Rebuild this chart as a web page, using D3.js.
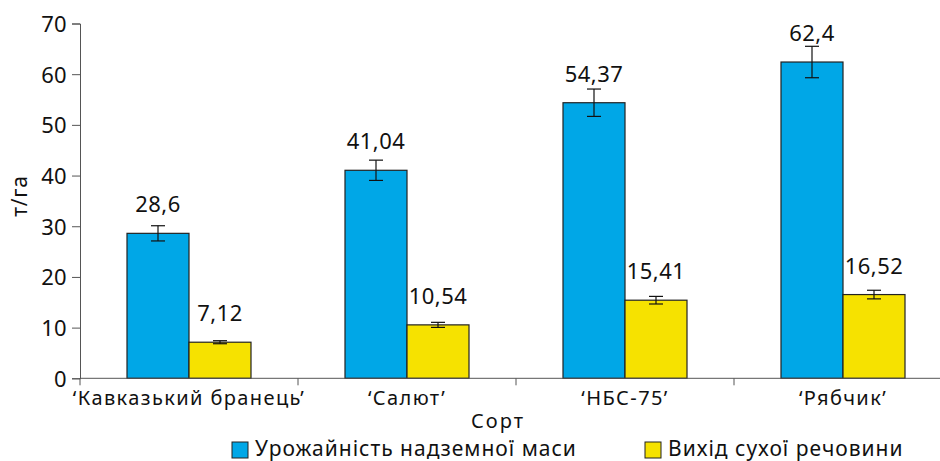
<!DOCTYPE html>
<html><head><meta charset="utf-8">
<script src="https://cdn.jsdelivr.net/npm/d3@7"></script>
<style>body{margin:0;background:#fff}text{font-family:"Noto Sans",sans-serif;fill:#111}</style>
</head><body><svg id="c" width="940" height="461"></svg>
<script>
const categories = ["‘Кавказький бранець’", "‘Салют’", "‘НБС-75’", "‘Рябчик’"];
const seriesNames = ["Урожайність надземної маси", "Вихід сухої речовини"];
const yieldValues = [28.6, 41.04, 54.37, 62.4];
const yieldErrors = [1.5, 2.0, 2.7, 3.1];
const dryValues = [7.12, 10.54, 15.41, 16.52];
const dryErrors = [0.3, 0.5, 0.75, 0.85];
const yTicks = [0, 10, 20, 30, 40, 50, 60, 70];
const colors = ["#00a7e7", "#f6e200"];

const svg = d3.select("#c");
const x = d3.scaleBand().domain(categories).range([80, 952]).paddingInner(0).paddingOuter(0);
const y = d3.scaleLinear().domain([0, 70]).range([378.3, 23.5]);
const bw = 62;

// axes
const ya = svg.append("g").attr("transform", "translate(80,0)")
  .call(d3.axisLeft(y).tickValues(yTicks).tickSize(8).tickPadding(5).tickFormat(d3.format("d")));
ya.select(".domain").attr("stroke", "#555");
ya.selectAll(".tick line").attr("stroke", "#555");
ya.selectAll(".tick text").style("font-size", "22px").style("letter-spacing", "0.3px").attr("dy", "0.36em");

const series = [
  {vals: yieldValues, errs: yieldErrors, off: -bw},
  {vals: dryValues, errs: dryErrors, off: 0}
];
series.forEach((s, si) => {
  const g = svg.append("g");
  categories.forEach((c, i) => {
    const cx = x(c) + x.bandwidth() / 2 + s.off;
    g.append("rect").attr("x", cx).attr("y", y(s.vals[i])).attr("width", bw)
      .attr("height", y(0) - y(s.vals[i])).attr("fill", colors[si]).attr("stroke", "#222").attr("stroke-width", 1.2);
    const ex = cx + bw / 2;
    const t = y(s.vals[i] + s.errs[i]), b = y(s.vals[i] - s.errs[i]);
    g.append("line").attr("x1", ex).attr("x2", ex).attr("y1", t).attr("y2", b).attr("stroke", "#111").attr("stroke-width", 1.2);
    [t, b].forEach(yy => g.append("line").attr("x1", ex - 7).attr("x2", ex + 7).attr("y1", yy).attr("y2", yy).attr("stroke", "#111").attr("stroke-width", 1.2));
    g.append("text").attr("x", ex).attr("y", y(s.vals[i]) - 21).attr("text-anchor", "middle")
      .style("font-size", "22px").style("letter-spacing", "0.5px").text(String(s.vals[i]).replace(".", ","));
  });
});

// x axis
svg.append("line").attr("x1", 80).attr("x2", 952).attr("y1", y(0)).attr("y2", y(0)).attr("stroke", "#555");
const xb = [80].concat(categories.map(c => x(c) + x.bandwidth()));
xb.forEach(v => svg.append("line").attr("x1", v).attr("x2", v).attr("y1", y(0)).attr("y2", y(0) + 7).attr("stroke", "#555"));
categories.forEach(c => svg.append("text").attr("x", x(c) + x.bandwidth() / 2).attr("y", 405)
  .attr("text-anchor", "middle").style("font-size", "20px").style("letter-spacing", "1.4px").text(c));

svg.append("text").attr("x", 498).attr("y", 428).attr("text-anchor", "middle").style("font-size", "20px").style("letter-spacing", "2px").text("Сорт");
svg.append("text").attr("transform", "translate(27,196) rotate(-90)").attr("text-anchor", "middle").style("font-size", "21px").style("letter-spacing", "0.8px").text("т/га");

// legend
const lx = [232, 645];
seriesNames.forEach((n, i) => {
  svg.append("rect").attr("x", lx[i]).attr("y", 442).attr("width", 16).attr("height", 16).attr("fill", colors[i]).attr("stroke", "#222");
  svg.append("text").attr("x", lx[i] + 23).attr("y", 456).style("font-size", "21px").style("letter-spacing", "1px").text(n);
});
</script></body></html>
